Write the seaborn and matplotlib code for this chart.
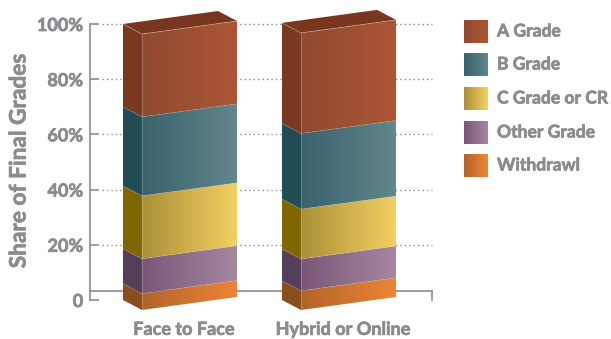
import numpy as np
import pandas as pd
import matplotlib
matplotlib.use("Agg")
import matplotlib.pyplot as plt
import matplotlib.patheffects as pe
from matplotlib.patches import Polygon
from matplotlib.colors import LinearSegmentedColormap
from matplotlib.transforms import ScaledTranslation
import seaborn as sns

# ---- data ----
delivery = ["Face to Face", "Hybrid or Online"]
grades = ["A Grade", "B Grade", "C Grade or CR", "Other Grade", "Withdrawl"]
a_grade = [30.0, 36.4]
b_grade = [28.6, 27.4]
c_grade = [22.8, 18.1]
other_grade = [12.6, 11.5]
withdrawl = [6.0, 7.0]
series = [a_grade, b_grade, c_grade, other_grade, withdrawl]
y_ticks = [0, 20, 40, 60, 80, 100]
y_tick_labels = ["0", "20%", "40%", "60%", "80%", "100%"]

# ---- style ----
front_left = ["#8f4a30", "#3a626b", "#ab9038", "#7a5678", "#b0652a"]
front_right = ["#ad5636", "#62878d", "#f4d163", "#a588a2", "#ee8535"]
side = ["#7a3820", "#214c54", "#7f6600", "#553e5a", "#8a4e1c"]
top_col = "#78361f"
grey = "#8a8c90"

sns.set_style("white")
plt.rcParams["font.family"] = ["Lato", "DejaVu Sans"]
plt.rcParams["font.weight"] = "bold"
heavy = [pe.withStroke(linewidth=0.5, foreground=grey)]

W, H = 611, 339
fig = plt.figure(figsize=(W / 100, H / 100), dpi=100)
L, R, T, B = 89.5, 432, 24, 300
ax = fig.add_axes([L / W, (H - B) / H, (R - L) / W, (B - T) / H])

# cumulative tops, largest first, so each layer's top is a library-scaled bar
tops = np.cumsum(np.array(series)[::-1], axis=0)[::-1]
df = pd.DataFrame([
    {"Delivery": d, "Grade": g, "Top": tops[i, j]}
    for i, g in enumerate(grades) for j, d in enumerate(delivery)
])
sns.barplot(df, x="Delivery", y="Top", hue="Grade", hue_order=grades, order=delivery,
            dodge=False, width=0.717, legend=False, ax=ax, errorbar=None)

ax.set_xlim(-0.569, 1.585)
ax.set_ylim(0, 100)
ax.set_xlabel("")
ax.set_ylabel("")

# axes furniture
base = 100 * 9 / (B - T)
ax.spines["top"].set_visible(False)
for s in ("left", "right", "bottom"):
    ax.spines[s].set_color(grey)
    ax.spines[s].set_linewidth(1.2)
    ax.spines[s].set_zorder(1)
ax.spines["bottom"].set_position(("data", base))
ax.spines["right"].set_bounds(0, base)
ax.set_yticks(y_ticks, y_tick_labels)
ax.tick_params(axis="y", direction="in", length=6.3, width=1.2, color=grey,
               labelcolor=grey, labelsize=13, pad=4.5, left=True, zorder=1)
ax.tick_params(axis="x", length=0, labelcolor=grey, labelsize=13, pad=21.5)
offset = ScaledTranslation(4 / 100, 0, fig.dpi_scale_trans)
for lab in ax.get_xticklabels():
    lab.set_transform(lab.get_transform() + offset)
    lab.set_path_effects(heavy)
for lab in ax.get_yticklabels():
    lab.set_path_effects(heavy)
x_t = ax.get_yaxis_transform()
for v in y_ticks[1:]:
    ax.plot([(102 - L) / (R - L), 1], [v, v], transform=x_t, color=grey, lw=1.0,
            ls=(0, (1, 2.2)), zorder=0.5, clip_on=False)
fig.text(19 / W, 1 - 161 / H, "Share of Final Grades", rotation=90, ha="center", va="center",
         color=grey, fontsize=16.3, path_effects=heavy)

# 3D extrusion of the bars, in pixel offsets from the library's bar geometry
DX, DROP, RISE = 19, 10, 13
to_px = ax.transData
to_data = ax.transData.inverted()


def poly(pts):
    return to_data.transform(np.array(pts, float))


z = 3.0
grad = np.linspace(0, 1, 256).reshape(1, -1)
for seg in range(len(grades) - 1, -1, -1):
    cmap = LinearSegmentedColormap.from_list(f"g{seg}", [front_left[seg], front_right[seg]])
    for j, bar in enumerate(ax.containers[seg]):
        x0, x1 = bar.get_x(), bar.get_x() + bar.get_width()
        t = bar.get_height()
        b = ax.containers[seg + 1][j].get_height() if seg + 1 < len(grades) else 0.0
        (px0, pyb), (px1, pyt) = to_px.transform([(x0, b), (x1, t)])
        bar.set_visible(False)
        fx = px0 + DX
        side_pts = [(px0, pyt), (fx, pyt - DROP), (fx, pyb - DROP), (px0, pyb)]
        front_pts = [(fx, pyt - DROP), (px1, pyt - DROP + RISE), (px1, pyb - DROP + RISE), (fx, pyb - DROP)]
        ax.add_patch(Polygon(poly(side_pts), closed=True, fc=side[seg], ec="none", zorder=z, clip_on=False))
        fp = Polygon(poly(front_pts), closed=True, fc="none", ec="none", zorder=z, clip_on=False)
        ax.add_patch(fp)
        d0 = to_data.transform((fx, pyb - 20))
        d1 = to_data.transform((px1, pyt + 20))
        im = ax.imshow(grad, cmap=cmap, aspect="auto", extent=(d0[0], d1[0], d0[1], d1[1]),
                       zorder=z + 0.1, interpolation="bilinear")
        im.set_clip_box(fig.bbox)
        im.set_clip_path(fp)
        # thin light seams
        ln = poly([(px0, pyt), (fx, pyt - DROP), (px1, pyt - DROP + RISE)])
        ax.plot(ln[:, 0], ln[:, 1], color="#ffffff", alpha=0.3, lw=0.6, zorder=z + 0.2, clip_on=False)
        ln = poly([(fx, pyt - DROP), (fx, pyb - DROP)])
        ax.plot(ln[:, 0], ln[:, 1], color="#ffffff", alpha=0.25, lw=0.6, zorder=z + 0.2, clip_on=False)
        if seg == 0:
            top_pts = [(px0, pyt), (px1 - DX, pyt + RISE), (px1, pyt - DROP + RISE), (fx, pyt - DROP)]
            ax.add_patch(Polygon(poly(top_pts), closed=True, fc=top_col, ec="none", zorder=z, clip_on=False))
    z += 1
ax.set_xlim(-0.569, 1.585)
ax.set_ylim(0, 100)

# legend
swatch_y = [20, 53, 87, 121, 154]
for i, g in enumerate(grades):
    sw = fig.add_axes([464 / W, 1 - (swatch_y[i] + 23.5) / H, 23 / W, 23.5 / H])
    sw.imshow(grad, aspect="auto", interpolation="bilinear",
              cmap=LinearSegmentedColormap.from_list(f"s{i}", [front_left[i], front_right[i]]))
    sw.axis("off")
    fig.text(497 / W, 1 - (swatch_y[i] + 11.5) / H, g, color=grey, fontsize=12.6, va="center",
             ha="left", path_effects=heavy)

fig.savefig("out.png", dpi=100, facecolor="white")
